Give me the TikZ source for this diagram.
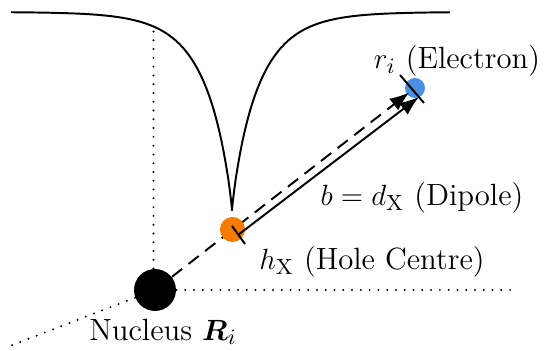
\documentclass[tikz,border=0pt]{standalone}
\usepackage{bm}
\usetikzlibrary{arrows.meta,calc}
\definecolor{holeorange}{RGB}{245,124,0}
\definecolor{elecblue}{RGB}{74,144,226}
\begin{document}
\begin{tikzpicture}[x=0.41pt,y=-0.41pt,
  curve/.style={line width=0.8pt},
  axisdots/.style={line width=0.9pt, line cap=round, dash pattern=on 0pt off 3.6pt},
  dipdash/.style={line width=0.8pt, dash pattern=on 5.3pt off 3.3pt},
  solidarrow/.style={line width=0.8pt},
  barline/.style={line width=0.8pt},
  tipstyle/.style={-{Latex[length=8pt,width=6pt]}},
  particle/.style={circle, inner sep=0pt, draw=none},
  lbl/.style={inner sep=0pt, font=\fontsize{12.6}{15}\selectfont}]
\useasboundingbox (0,0) rectangle (546,351);
% potential curve
\draw[curve] plot[domain=14.866:0.01, samples=150, variable=\t] ({232-\t*\t},{12+198*exp(-((\t*\t/27)^0.9))})
  -- (232,210)
  -- plot[domain=0.01:14.76, samples=150, variable=\t] ({232+\t*\t},{12+198*exp(-((\t*\t/27)^0.9))});
% particles
\node[particle, fill=black, minimum size=17.2pt] (N) at (155,290) {};
\node[particle, fill=elecblue, minimum size=8.2pt] (E) at (415,88) {};
% axes
\coordinate (vtop) at (153.5,27);
\coordinate (hend) at (513,290);
\coordinate (dend) at (10,346);
\draw[axisdots] (N) -- (vtop |- N.north) -- (vtop);
\draw[axisdots] (N) -- (hend);
\draw[axisdots] (N) -- (dend);
% dashed position vector
\draw[dipdash, tipstyle, shorten >=3pt] (N) -- (E.center);
\node[particle, fill=holeorange, minimum size=10.3pt] (H) at (232.5,229.5) {};
% dipole arrow
\coordinate (s1) at (238,235);
\coordinate (s2) at (419,97);
\draw[solidarrow, tipstyle] (s1) -- (s2);
\coordinate (b1a) at (232,226);
\coordinate (b1b) at (245,244);
\coordinate (b2a) at (400,75);
\coordinate (b2b) at (424,103);
\draw[barline] (b1a) -- (b1b);
\draw[barline] (b2a) -- (b2b);
% labels
\node[lbl] (lblE) at (457,61) {$r_i$ (Electron)};
\node[lbl] (lblD) at (422,198) {$b = d_{\mathrm{X}}$ (Dipole)};
\node[lbl] (lblH) at (372,262) {$h_{\mathrm{X}}$ (Hole Centre)};
\node[lbl] (lblN) at (163,332) {Nucleus $\bm{R}_i$};
\end{tikzpicture}
\end{document}
